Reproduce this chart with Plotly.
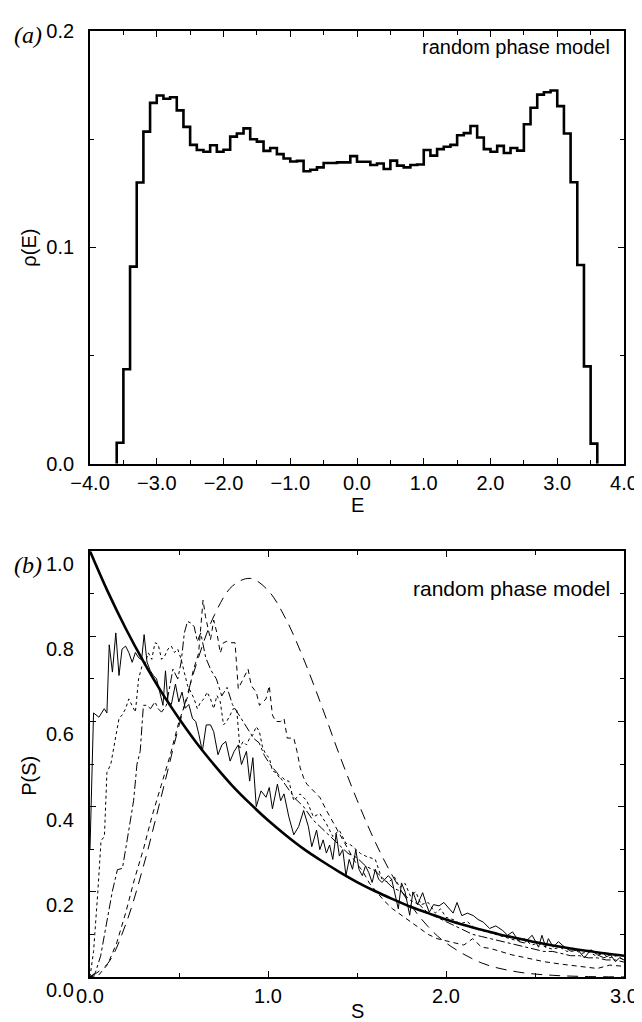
import plotly.graph_objects as go

# ---------------- panel (a): histogram rho(E) ----------------
E_EDGES_LEFT = [round(-3.6 + 0.1 * i, 1) for i in range(72)]
RHO = [0.0097, 0.0437, 0.0911, 0.1300, 0.1535, 0.1668, 0.1702, 0.1687, 0.1694, 0.1633,
       0.1557, 0.1474, 0.1450, 0.1442, 0.1472, 0.1442, 0.1451, 0.1512, 0.1526, 0.1550,
       0.1500, 0.1489, 0.1446, 0.1459, 0.1431, 0.1411, 0.1397, 0.1400, 0.1352, 0.1359,
       0.1370, 0.1390, 0.1390, 0.1393, 0.1393, 0.1422, 0.1396, 0.1396, 0.1381, 0.1388,
       0.1362, 0.1401, 0.1378, 0.1370, 0.1381, 0.1383, 0.1450, 0.1424, 0.1454, 0.1465,
       0.1474, 0.1518, 0.1528, 0.1561, 0.1508, 0.1454, 0.1442, 0.1469, 0.1436, 0.1459,
       0.1447, 0.1569, 0.1645, 0.1706, 0.1717, 0.1725, 0.1653, 0.1526, 0.1301, 0.0919,
       0.0450, 0.0093]
E_TICKS = [-4.0, -3.0, -2.0, -1.0, 0.0, 1.0, 2.0, 3.0, 4.0]
RHO_TICKS = [0.0, 0.1, 0.2]

# ---------------- panel (b): P(S) ----------------
S_POI = [round(0.1 * i, 1) for i in range(31)]
P_POI = [1.0, 0.905, 0.819, 0.741, 0.670, 0.607, 0.549, 0.497, 0.449, 0.407, 0.368,
         0.333, 0.301, 0.273, 0.247, 0.223, 0.202, 0.183, 0.165, 0.150, 0.135,
         0.122, 0.111, 0.100, 0.091, 0.082, 0.074, 0.067, 0.061, 0.055, 0.050]

S_GUE = [0.0, 0.1, 0.2, 0.3, 0.4, 0.5, 0.6, 0.7, 0.8, 0.9, 1.0, 1.1, 1.2, 1.3, 1.4, 1.5,
         1.6, 1.7, 1.8, 1.9, 2.0, 2.2, 2.4, 2.6, 2.8, 3.0]
P_GUE = [0.0, 0.032, 0.123, 0.260, 0.423, 0.590, 0.738, 0.851, 0.918, 0.936, 0.908,
         0.841, 0.747, 0.638, 0.523, 0.416, 0.319, 0.237, 0.170, 0.118, 0.080,
         0.033, 0.012, 0.004, 0.001, 0.0003]

S1 = [0.0, 0.01, 0.02, 0.05, 0.08, 0.095, 0.108, 0.126, 0.145, 0.163,
      0.18, 0.2, 0.218, 0.237, 0.255, 0.273, 0.29, 0.304, 0.32, 0.338,
      0.356, 0.374, 0.392, 0.41, 0.424, 0.438, 0.457, 0.48, 0.499, 0.517,
      0.535, 0.555, 0.576, 0.594, 0.612, 0.631, 0.653, 0.677, 0.695, 0.719,
      0.741, 0.763, 0.787, 0.81, 0.833, 0.851, 0.879, 0.897, 0.915, 0.934,
      0.961, 0.989, 1.007, 1.025, 1.053, 1.071, 1.09, 1.117, 1.145, 1.172,
      1.2, 1.227, 1.246, 1.273, 1.291, 1.31, 1.328, 1.346, 1.364, 1.383,
      1.401, 1.42, 1.438, 1.456, 1.475, 1.493, 1.511, 1.53, 1.548, 1.566,
      1.585, 1.603, 1.621, 1.64, 1.658, 1.676, 1.695, 1.714, 1.732, 1.75,
      1.77, 1.796, 1.814, 1.84, 1.869, 1.89, 1.906, 1.93, 1.961, 1.988,
      2.016, 2.04, 2.062, 2.089, 2.12, 2.154, 2.18, 2.209, 2.245, 2.28,
      2.319, 2.346, 2.374, 2.41, 2.44, 2.462, 2.484, 2.52, 2.539, 2.56,
      2.575, 2.603, 2.631, 2.667, 2.704, 2.741, 2.777, 2.814, 2.851, 2.887,
      2.924, 2.952, 2.975, 3.0]
P1 = [0.30, 0.45, 0.62, 0.61, 0.63, 0.62, 0.78, 0.716, 0.808, 0.708,
      0.77, 0.777, 0.762, 0.739, 0.762, 0.75, 0.745, 0.804, 0.74, 0.72,
      0.708, 0.70, 0.669, 0.638, 0.719, 0.646, 0.64, 0.688, 0.646, 0.669,
      0.631, 0.64, 0.607, 0.60, 0.569, 0.53, 0.592, 0.592, 0.576, 0.522,
      0.545, 0.553, 0.507, 0.53, 0.545, 0.499, 0.53, 0.46, 0.515, 0.40,
      0.437, 0.422, 0.445, 0.395, 0.453, 0.414, 0.43, 0.376, 0.334, 0.353,
      0.391, 0.353, 0.306, 0.345, 0.299, 0.322, 0.291, 0.31, 0.276, 0.337,
      0.284, 0.299, 0.238, 0.276, 0.253, 0.299, 0.253, 0.238, 0.261, 0.245,
      0.222, 0.253, 0.23, 0.222, 0.23, 0.238, 0.229, 0.19, 0.16, 0.221,
      0.20, 0.145, 0.20, 0.17, 0.198, 0.17, 0.152, 0.17, 0.167, 0.175,
      0.16, 0.15, 0.175, 0.144, 0.15, 0.144, 0.135, 0.129, 0.114, 0.12,
      0.109, 0.098, 0.106, 0.083, 0.08, 0.09, 0.098, 0.07, 0.098, 0.07,
      0.09, 0.07, 0.083, 0.07, 0.06, 0.064, 0.045, 0.064, 0.052, 0.045,
      0.052, 0.036, 0.045, 0.04]

S2 = [0.0, 0.02, 0.044, 0.062, 0.081, 0.095, 0.117, 0.145, 0.163, 0.18,
      0.2, 0.218, 0.237, 0.255, 0.273, 0.292, 0.31, 0.328, 0.347, 0.365,
      0.383, 0.402, 0.42, 0.438, 0.457, 0.475, 0.493, 0.512, 0.53, 0.548,
      0.567, 0.585, 0.603, 0.622, 0.64, 0.658, 0.677, 0.695, 0.713, 0.732,
      0.75, 0.768, 0.787, 0.805, 0.824, 0.842, 0.86, 0.879, 0.897, 0.915,
      0.934, 0.952, 0.97, 0.989, 1.007, 1.025, 1.044, 1.062, 1.08, 1.099,
      1.117, 1.145, 1.18, 1.218, 1.255, 1.291, 1.328, 1.364, 1.4, 1.438,
      1.465, 1.493, 1.52, 1.548, 1.575, 1.603, 1.64, 1.676, 1.71, 1.74,
      1.77, 1.8, 1.83, 1.86, 1.9, 1.94, 1.97, 2.0, 2.04, 2.08,
      2.12, 2.16, 2.2, 2.24, 2.28, 2.32, 2.36, 2.4, 2.44, 2.48,
      2.52, 2.56, 2.6, 2.64, 2.68, 2.72, 2.76, 2.8, 2.84, 2.88,
      2.92, 2.96, 3.0]
P2 = [0.0, 0.06, 0.2, 0.32, 0.33, 0.48, 0.50, 0.563, 0.607, 0.615,
      0.63, 0.653, 0.638, 0.622, 0.70, 0.73, 0.738, 0.761, 0.746, 0.785,
      0.781, 0.746, 0.754, 0.77, 0.777, 0.762, 0.77, 0.746, 0.715, 0.684,
      0.669, 0.653, 0.63, 0.646, 0.653, 0.669, 0.653, 0.63, 0.661, 0.646,
      0.592, 0.60, 0.615, 0.63, 0.63, 0.538, 0.553, 0.545, 0.561, 0.569,
      0.588, 0.576, 0.538, 0.522, 0.515, 0.484, 0.48, 0.469, 0.469, 0.461,
      0.46, 0.414, 0.43, 0.414, 0.376, 0.384, 0.36, 0.33, 0.345, 0.314,
      0.31, 0.299, 0.29, 0.284, 0.28, 0.276, 0.23, 0.222, 0.235, 0.21,
      0.22, 0.19, 0.2, 0.17, 0.175, 0.15, 0.16, 0.14, 0.135, 0.125,
      0.13, 0.115, 0.11, 0.105, 0.1, 0.095, 0.09, 0.085, 0.09, 0.075,
      0.08, 0.07, 0.065, 0.07, 0.06, 0.065, 0.055, 0.06, 0.05, 0.055,
      0.045, 0.05, 0.04]

S3 = [0.0, 0.03, 0.06, 0.099, 0.125, 0.154, 0.182, 0.209, 0.245, 0.264,
      0.282, 0.3, 0.319, 0.34, 0.365, 0.383, 0.402, 0.429, 0.447, 0.466,
      0.493, 0.512, 0.53, 0.548, 0.567, 0.585, 0.603, 0.622, 0.65, 0.68,
      0.71, 0.74, 0.77, 0.8, 0.83, 0.86, 0.89, 0.92, 0.95, 0.98,
      1.01, 1.05, 1.1, 1.15, 1.2, 1.25, 1.3, 1.35, 1.4, 1.45,
      1.5, 1.55, 1.6, 1.65, 1.7, 1.75, 1.8, 1.85, 1.9, 1.95,
      2.0, 2.05, 2.1, 2.15, 2.2, 2.25, 2.3, 2.35, 2.4, 2.45,
      2.5, 2.55, 2.6, 2.65, 2.7, 2.75, 2.8, 2.85, 2.9, 2.95, 3.0]
P3 = [0.0, 0.01, 0.05, 0.145, 0.2, 0.252, 0.255, 0.322, 0.414, 0.50,
      0.53, 0.638, 0.638, 0.63, 0.646, 0.63, 0.622, 0.638, 0.684, 0.723,
      0.70, 0.739, 0.808, 0.835, 0.831, 0.823, 0.788, 0.808, 0.75, 0.72,
      0.70, 0.66, 0.68, 0.64, 0.62, 0.60, 0.58, 0.56, 0.55, 0.52,
      0.50, 0.48, 0.45, 0.42, 0.40, 0.37, 0.35, 0.33, 0.31, 0.29,
      0.28, 0.26, 0.25, 0.23, 0.21, 0.20, 0.18, 0.17, 0.15, 0.14,
      0.13, 0.12, 0.11, 0.10, 0.095, 0.09, 0.085, 0.08, 0.075, 0.07,
      0.065, 0.06, 0.06, 0.055, 0.05, 0.05, 0.045, 0.045, 0.04, 0.04, 0.035]

S4 = [0.0, 0.05, 0.1, 0.15, 0.2, 0.25, 0.3, 0.35, 0.4, 0.45,
      0.5, 0.55, 0.58, 0.61, 0.635, 0.649, 0.677, 0.695, 0.713, 0.732,
      0.75, 0.768, 0.787, 0.815, 0.833, 0.86, 0.888, 0.906, 0.934, 0.952,
      0.97, 0.989, 1.007, 1.025, 1.044, 1.071, 1.09, 1.108, 1.145, 1.163,
      1.181, 1.2, 1.218, 1.255, 1.291, 1.33, 1.37, 1.41, 1.45, 1.49,
      1.53, 1.57, 1.61, 1.65, 1.7, 1.75, 1.8, 1.85, 1.9, 1.95,
      2.0, 2.05, 2.1, 2.15, 2.2, 2.25, 2.3, 2.37, 2.45, 2.55,
      2.65, 2.75, 2.85, 2.92, 3.0]
P4 = [0.0, 0.005, 0.03, 0.08, 0.15, 0.23, 0.3, 0.38, 0.45, 0.52,
      0.6, 0.66, 0.72, 0.76, 0.885, 0.846, 0.792, 0.838, 0.808, 0.761,
      0.785, 0.788, 0.785, 0.785, 0.677, 0.70, 0.723, 0.684, 0.669, 0.638,
      0.646, 0.653, 0.684, 0.615, 0.60, 0.60, 0.607, 0.561, 0.561, 0.53,
      0.491, 0.468, 0.453, 0.437, 0.422, 0.39, 0.36, 0.33, 0.30, 0.27,
      0.25, 0.22, 0.20, 0.18, 0.16, 0.145, 0.13, 0.115, 0.10, 0.09,
      0.085, 0.08, 0.075, 0.09, 0.07, 0.067, 0.06, 0.052, 0.045, 0.036,
      0.03, 0.025, 0.02, 0.028, 0.025]

S_TICKS = [0.0, 1.0, 2.0, 3.0]
PS_TICKS = [0.0, 0.2, 0.4, 0.6, 0.8, 1.0]
PS_TICK_TEXT = ["0.0", "0.2", "0.4", "0.6", "0.8", "1.0"]

for a, b in [(S1, P1), (S2, P2), (S3, P3), (S4, P4), (S_GUE, P_GUE), (S_POI, P_POI)]:
    assert len(a) == len(b)
assert len(E_EDGES_LEFT) == len(RHO)

# ---------------- figure ----------------
W, H = 642, 1022
ML, MR, MT, MB = 82, 15, 16, 53
PLOT_W = W - ML - MR
PLOT_H = H - MT - MB
TOP_BOTTOM_PX = 452
BOT_TOP_PX = 540


def py(y):
    return (H - MB - y) / PLOT_H


def px(x):
    return (x - ML) / PLOT_W


FONT = "Liberation Sans, Arial, Helvetica, sans-serif"
fig = go.Figure()

hx = [E_EDGES_LEFT[0]] + E_EDGES_LEFT + [round(E_EDGES_LEFT[-1] + 0.1, 1)]
hy = [0.0] + RHO + [0.0]
fig.add_trace(go.Scatter(x=hx, y=hy, mode="lines", line=dict(color="black", width=2.6, shape="hv"),
                         xaxis="x", yaxis="y", showlegend=False, hoverinfo="skip"))

thin = 1.0
fig.add_trace(go.Scatter(x=S1, y=P1, mode="lines", line=dict(color="black", width=thin),
                         xaxis="x2", yaxis="y2", showlegend=False))
fig.add_trace(go.Scatter(x=S2, y=P2, mode="lines", line=dict(color="black", width=thin, dash="dot"),
                         xaxis="x2", yaxis="y2", showlegend=False))
fig.add_trace(go.Scatter(x=S3, y=P3, mode="lines", line=dict(color="black", width=thin, dash="dashdot"),
                         xaxis="x2", yaxis="y2", showlegend=False))
fig.add_trace(go.Scatter(x=S4, y=P4, mode="lines", line=dict(color="black", width=thin, dash="5px,4px"),
                         xaxis="x2", yaxis="y2", showlegend=False))
fig.add_trace(go.Scatter(x=S_GUE, y=P_GUE, mode="lines",
                         line=dict(color="black", width=thin, dash="11px,7px", shape="spline"),
                         xaxis="x2", yaxis="y2", showlegend=False))
fig.add_trace(go.Scatter(x=S_POI, y=P_POI, mode="lines",
                         line=dict(color="black", width=2.6, shape="spline"),
                         xaxis="x2", yaxis="y2", showlegend=False))

axis_common = dict(showline=True, linecolor="black", linewidth=1.8, mirror="ticks",
                   ticks="inside", ticklen=6, tickwidth=1, tickcolor="black",
                   showgrid=False, zeroline=False, tickformat=".1f",
                   tickfont=dict(family=FONT, size=20, color="black"))

fig.update_layout(
    width=W, height=H, paper_bgcolor="white", plot_bgcolor="white",
    margin=dict(l=ML, r=MR, t=MT, b=MB), showlegend=False,
    xaxis=dict(domain=[0, 1], range=[-4, 4], anchor="y", tickvals=E_TICKS,
               minor=dict(dtick=0.5, ticks="inside", ticklen=4, tickcolor="black", showgrid=False),
               ticklabelstandoff=0, **axis_common),
    yaxis=dict(domain=[py(TOP_BOTTOM_PX), 1], range=[0, 0.2], anchor="x", tickvals=RHO_TICKS,
               minor=dict(dtick=0.05, ticks="inside", ticklen=4, tickcolor="black", showgrid=False),
               ticklabelstandoff=10, **axis_common),
    xaxis2=dict(domain=[0, 1], range=[0, 3], anchor="y2", tickvals=S_TICKS,
                minor=dict(dtick=0.5, ticks="inside", ticklen=4, tickcolor="black", showgrid=False),
                ticklabelstandoff=0, **axis_common),
    yaxis2=dict(domain=[0, py(BOT_TOP_PX)], range=[0, 1.0], anchor="x2", tickvals=PS_TICKS,
                showticklabels=False,
                minor=dict(dtick=0.1, ticks="inside", ticklen=4, tickcolor="black", showgrid=False),
                **axis_common),
)

lab_font = dict(family=FONT, size=20, color="black")
serif = dict(family="Liberation Serif, Times New Roman, serif", size=24, color="black")
annotations = [
    dict(text="random phase model", x=px(615), y=py(32), xanchor="right", yanchor="middle",
         xref="paper", yref="paper", font=dict(family=FONT, size=20, color="black")),
    dict(text="random phase model", x=px(615), y=py(578), xanchor="right", yanchor="middle",
         xref="paper", yref="paper", font=dict(family=FONT, size=21, color="black")),
    dict(text="<i>(a)</i>", x=px(35), y=py(20), xanchor="right", yanchor="middle",
         xref="paper", yref="paper", font=serif),
    dict(text="<i>(b)</i>", x=px(35), y=py(554), xanchor="right", yanchor="middle",
         xref="paper", yref="paper", font=serif),
    dict(text="ρ(E)", x=px(20), y=py(234), xanchor="center", yanchor="middle", textangle=-90,
         xref="paper", yref="paper", font=lab_font),
    dict(text="P(S)", x=px(20), y=py(766), xanchor="center", yanchor="middle", textangle=-90,
         xref="paper", yref="paper", font=lab_font),
    dict(text="E", x=px(355), y=py(494), xanchor="center", yanchor="middle",
         xref="paper", yref="paper", font=lab_font),
    dict(text="S", x=px(355), y=py(1003), xanchor="center", yanchor="middle",
         xref="paper", yref="paper", font=lab_font),
]
# P(S) tick labels (set slightly below their ticks, as in the reference)
for v, t in zip(PS_TICKS, PS_TICK_TEXT):
    annotations.append(dict(text=t, x=px(68), y=v, xref="paper", yref="y2", xanchor="right",
                            yanchor="middle", yshift=-13, font=lab_font))
for a in annotations:
    a.update(showarrow=False)
fig.update_layout(annotations=annotations)

fig.write_html("out.html")
